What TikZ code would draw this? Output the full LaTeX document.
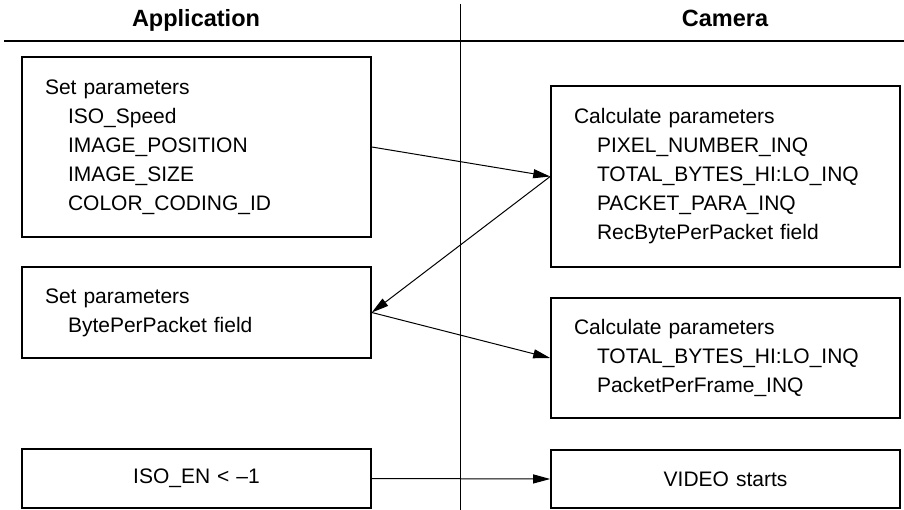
\documentclass[tikz,border=0pt]{standalone}
\usepackage{fontspec}
\setmainfont{Liberation Sans}
\usetikzlibrary{positioning,arrows.meta}

\newcommand{\ind}{\hspace*{23pt}}

\begin{document}
\begin{tikzpicture}[x=1pt, y=-1pt,
    flowbox/.style={draw, line width=1.6pt, minimum width=349pt, inner xsep=23pt, inner ysep=0pt,
      text width=303pt, align=left, font=\fontsize{21}{29}\selectfont},
    msg/.style={-{Triangle[length=17pt,width=9pt]}, line width=1pt},
    lane/.style={anchor=base, font=\fontsize{23.5}{28}\selectfont\bfseries}]
    \useasboundingbox (0,0) rectangle (904,510);

    % Lanes
    \node[lane] (app) at (196,27) {Application};
    \node[lane] (cam) at (725,27) {Camera};
    \coordinate (divtop) at (460,4);
    \coordinate (divbot) at (460,510);
    \coordinate (ruleleft) at (4,41);
    \coordinate (ruleright) at (904,41);
    \draw[line width=1pt] (divtop) -- (divbot);
    \draw[line width=1.2pt] (ruleleft) -- (ruleright);

    % Application side
    \node[flowbox, minimum height=180pt] (setA) at (196.5,147)
      {Set parameters\\ \ind ISO\_Speed\\ \ind IMAGE\_POSITION\\ \ind IMAGE\_SIZE\\ \ind COLOR\_CODING\_ID};
    \node[flowbox, minimum height=91pt] (setB) at (196.5,312.5)
      {Set parameters\\ \ind BytePerPacket field};
    \node[flowbox, align=center, minimum height=59pt] (isoen) at (196.5,478.5) {ISO\_EN < --1};

    % Camera side
    \node[flowbox, minimum height=181pt] (calcA) at (725.5,176.5)
      {Calculate parameters\\ \ind PIXEL\_NUMBER\_INQ\\ \ind TOTAL\_BYTES\_HI:LO\_INQ\\ \ind PACKET\_PARA\_INQ\\ \ind RecBytePerPacket field};
    \node[flowbox, minimum height=120pt] (calcB) at (725.5,358)
      {Calculate parameters\\ \ind TOTAL\_BYTES\_HI:LO\_INQ\\ \ind PacketPerFrame\_INQ};
    \node[flowbox, align=center, minimum height=58pt] (video) at (725.5,479) {VIDEO starts};

    % Messages
    \draw[msg] (setA.east) -- (calcA.west);
    \draw[msg] (calcA.west) -- (setB.east);
    \draw[msg] (setB.east) -- (calcB.west);
    \draw[msg] (isoen.east) -- (video.west);
\end{tikzpicture}
\end{document}
